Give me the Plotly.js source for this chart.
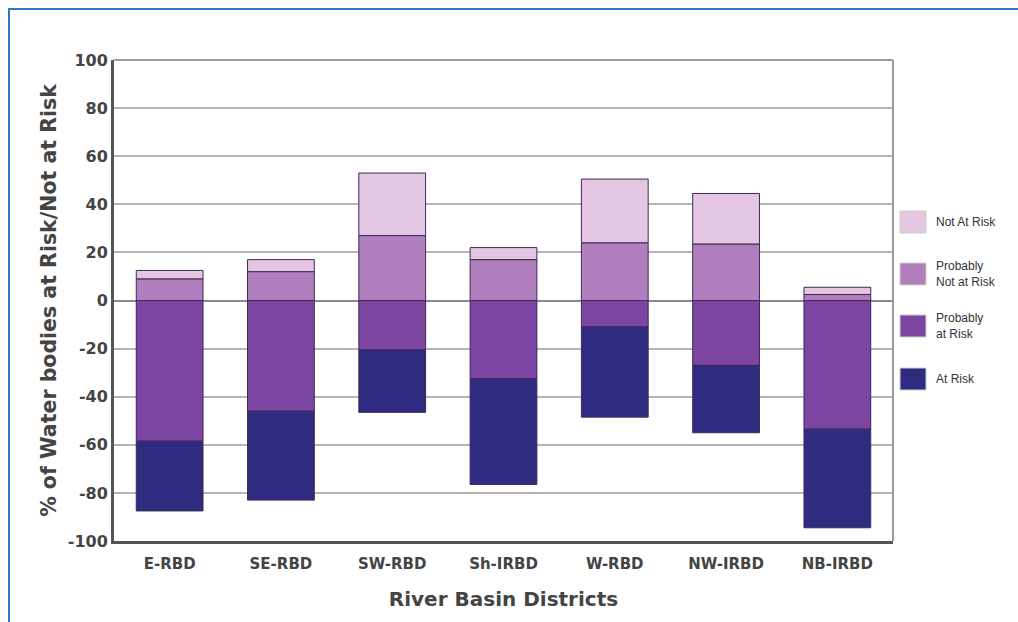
<!DOCTYPE html>
<html>
<head>
<meta charset="utf-8">
<script src="https://cdn.plot.ly/plotly-3.0.1.min.js"></script>
<style>
  html, body { margin: 0; padding: 0; background: #fff; }
  #wrap { position: relative; width: 1018px; height: 622px; }
  #chart { width: 1018px; height: 622px; }
  #frame { position: absolute; left: 8px; top: 8px; width: 1010px; height: 614px;
           border-left: 2px solid #2a78c8; border-top: 2px solid #2a78c8; pointer-events: none; }
</style>
</head>
<body>
<div id="wrap">
  <div id="chart"></div>
  <div id="frame"></div>
</div>
<script>
// ---- data ----
const categories = ["E-RBD", "SE-RBD", "SW-RBD", "Sh-IRBD", "W-RBD", "NW-IRBD", "NB-IRBD"];
const probablyAtRisk    = [-58.5, -46, -20.5, -32.5, -11, -27, -53.5];
const atRisk            = [-29, -37, -26, -44, -37.5, -28, -41];
const probablyNotAtRisk = [9, 12, 27, 17, 24, 23.5, 2.5];
const notAtRisk         = [3.5, 5, 26, 5, 26.5, 21, 3];
const yTicks = [-100, -80, -60, -40, -20, 0, 20, 40, 60, 80, 100];

const seriesNames  = ["Not At Risk", "Probably<br>Not at Risk", "Probably<br>at Risk", "At Risk"];
const seriesColors = ["#e4c5e2", "#b17fbe", "#7b45a1", "#2f2b80"];

// ---- traces ----
const outline = { color: "#3b2a55", width: 1 };
function bar(y, color, name) {
  return { type: "bar", x: categories, y: y, name: name, showlegend: false,
           marker: { color: color, line: outline }, hoverinfo: "x+y" };
}
const traces = [
  bar(probablyAtRisk, seriesColors[2], "Probably at Risk"),
  bar(atRisk, seriesColors[3], "At Risk"),
  bar(probablyNotAtRisk, seriesColors[1], "Probably Not at Risk"),
  bar(notAtRisk, seriesColors[0], "Not At Risk")
];

// ---- geometry helpers for custom legend ----
const W = 1018, H = 622;
const M = { l: 114, r: 125, t: 60, b: 81 };
const pw = W - M.l - M.r, ph = H - M.t - M.b;
const px = x => (x - M.l) / pw;
const py = y => (H - M.b - y) / ph;

const legendY = [222, 274, 326, 379];
const shapes = [
  { type: "line", xref: "paper", yref: "paper", x0: 1, x1: 1, y0: 0, y1: 1,
    line: { color: "#9a9a9a", width: 2 } },
  { type: "line", xref: "paper", yref: "paper", x0: 0, x1: 1, y0: 1, y1: 1,
    line: { color: "#9a9a9a", width: 2 } }
];
const annotations = [];
seriesNames.forEach((n, i) => {
  const cy = legendY[i];
  shapes.push({ type: "rect", xref: "paper", yref: "paper",
    x0: px(900), x1: px(926), y0: py(cy - 11), y1: py(cy + 11),
    fillcolor: seriesColors[i], line: { color: "#cfcfcf", width: 1 } });
  annotations.push({ xref: "paper", yref: "paper", x: px(934), y: py(cy),
    xanchor: "left", yanchor: "middle", align: "left", showarrow: false, text: n,
    font: { family: "Liberation Sans, Arial, sans-serif", size: 12, color: "#333" } });
});

const layout = {
  width: W, height: H,
  margin: M,
  paper_bgcolor: "rgba(0,0,0,0)", plot_bgcolor: "#fff",
  barmode: "relative", bargap: 0.4,
  font: { family: "DejaVu Sans, sans-serif", color: "#444" },
  showlegend: false,
  xaxis: {
    showgrid: false, showline: true, linecolor: "#555", linewidth: 3,
    ticks: "", ticklabelstandoff: 7,
    tickfont: { family: "DejaVu Sans, sans-serif", size: 15, color: "#444", weight: "bold" },
    title: { text: "River Basin Districts", standoff: 20,
             font: { family: "DejaVu Sans, sans-serif", size: 20, color: "#444", weight: "bold" } }
  },
  yaxis: {
    range: [-100, 100], tickvals: yTicks, ticktext: yTicks.map(String),
    showgrid: true, gridcolor: "#b5b5b5", gridwidth: 2,
    zeroline: true, zerolinecolor: "#8a8a8a", zerolinewidth: 2,
    showline: true, linecolor: "#555", linewidth: 3,
    ticks: "", ticklen: 0,
    tickfont: { family: "DejaVu Sans, sans-serif", size: 16, color: "#444", weight: "bold" },
    title: { text: "% of Water bodies at Risk/Not at Risk", standoff: 6,
             font: { family: "DejaVu Sans, sans-serif", size: 20.5, color: "#444", weight: "bold" } }
  },
  shapes: shapes,
  annotations: annotations
};

Plotly.newPlot("chart", traces, layout, { displayModeBar: false, staticPlot: true });
</script>
</body>
</html>
